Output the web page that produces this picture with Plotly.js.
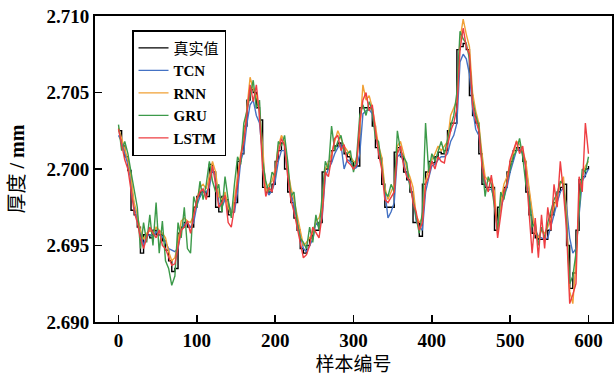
<!DOCTYPE html>
<html>
<head>
<meta charset="utf-8">
<script src="https://cdn.plot.ly/plotly-3.0.1.min.js"></script>
<style>html,body{margin:0;padding:0;background:#fff;}#chart{width:616px;height:376px;}</style>
</head>
<body>
<div id="chart"></div>
<script>
// sample index (every 4th sample)
const sampleIdx = Array.from({length: 151}, (_, i) => i * 4);

const trueVals = [
2.7025,2.7015,2.7008,2.6999,2.6973,2.6970,2.6962,2.6945,2.6957,2.6957,
2.6955,2.6960,2.6957,2.6957,2.6953,2.6947,2.6940,2.6933,2.6935,2.6958,
2.6962,2.6965,2.6962,2.6962,2.6975,2.6982,2.6985,2.6985,2.6982,2.7003,
2.6998,2.6975,2.6972,2.6982,2.6980,2.6970,2.6972,2.6978,2.7005,2.7010,
2.7028,2.7045,2.7052,2.7050,2.7040,2.7032,2.6988,2.6985,2.6985,2.6990,
2.7005,2.7012,2.7017,2.7000,2.6985,2.6978,2.6968,2.6960,2.6948,2.6945,
2.6950,2.6955,2.6960,2.6960,2.6965,2.6998,2.7000,2.7005,2.7012,2.7015,
2.7017,2.7015,2.7010,2.7008,2.7005,2.7002,2.7002,2.7040,2.7040,2.7040,
2.7040,2.7028,2.7014,2.7007,2.6990,2.6975,2.6975,2.6975,2.7011,2.7014,
2.7008,2.6998,2.6993,2.6985,2.6965,2.6965,2.6956,2.6990,2.6998,2.7005,
2.7004,2.7008,2.7011,2.7010,2.7012,2.7025,2.7030,2.7030,2.7078,2.7080,
2.7082,2.7078,2.7048,2.7035,2.7030,2.7010,2.6990,2.6988,2.6988,2.6988,
2.6960,2.6975,2.6982,2.6988,2.6998,2.7005,2.7012,2.7014,2.7012,2.7005,
2.6985,2.6970,2.6958,2.6955,2.6954,2.6954,2.6954,2.6960,2.6970,2.6978,
2.6985,2.6988,2.6990,2.6950,2.6922,2.6932,2.6960,2.6993,2.6995,2.7000,
2.7002];

const tcnVals = [
2.7022,2.7018,2.7010,2.7003,2.6992,2.6975,2.6968,2.6958,2.6950,2.6956,
2.6957,2.6956,2.6959,2.6957,2.6956,2.6952,2.6948,2.6947,2.6946,2.6948,
2.6960,2.6964,2.6965,2.6962,2.6965,2.6976,2.6982,2.6985,2.6985,2.6988,
2.7000,2.6995,2.6978,2.6975,2.6980,2.6978,2.6972,2.6972,2.6985,2.7005,
2.7012,2.7030,2.7042,2.7045,2.7035,2.7030,2.7010,2.6988,2.6983,2.6986,
2.6992,2.7005,2.7012,2.7012,2.6998,2.6985,2.6976,2.6966,2.6958,2.6948,
2.6946,2.6950,2.6954,2.6965,2.6962,2.6968,2.6995,2.7000,2.7004,2.7010,
2.7014,2.7016,2.7000,2.7006,2.7005,2.7000,2.7001,2.7010,2.7036,2.7038,
2.7039,2.7036,2.7024,2.7012,2.7004,2.6985,2.6968,2.6972,2.6978,2.7008,
2.7010,2.7004,2.6996,2.6990,2.6982,2.6966,2.6962,2.6960,2.6985,2.6994,
2.7002,2.7003,2.7006,2.7008,2.7008,2.7010,2.7018,2.7022,2.7030,2.7070,
2.7075,2.7072,2.7062,2.7040,2.7026,2.7022,2.7006,2.6990,2.6986,2.6987,
2.6980,2.6962,2.6975,2.6982,2.6988,2.6998,2.7005,2.7012,2.7013,2.7010,
2.7002,2.6985,2.6970,2.6960,2.6956,2.6955,2.6954,2.6955,2.6962,2.6970,
2.6978,2.6985,2.6988,2.6975,2.6955,2.6945,2.6948,2.6968,2.6992,2.6996,
2.7000];

const rnnVals = [
2.7027,2.7020,2.7012,2.7006,2.6995,2.6978,2.6970,2.6960,2.6954,2.6958,
2.6960,2.6958,2.6962,2.6960,2.6958,2.6955,2.6946,2.6940,2.6942,2.6952,
2.6966,2.6968,2.6966,2.6965,2.6970,2.6980,2.6988,2.6990,2.6987,2.6995,
2.7005,2.6998,2.6982,2.6980,2.6985,2.6975,2.6970,2.6980,2.6995,2.7010,
2.7020,2.7040,2.7060,2.7052,2.7048,2.7038,2.7015,2.6985,2.6990,2.6992,
2.7000,2.7015,2.7022,2.7018,2.7000,2.6988,2.6980,2.6970,2.6960,2.6950,
2.6952,2.6955,2.6958,2.6966,2.6968,2.6975,2.7000,2.7004,2.7010,2.7018,
2.7025,2.7020,2.7015,2.7012,2.7008,2.7005,2.7004,2.7025,2.7055,2.7045,
2.7048,2.7040,2.7028,2.7015,2.7008,2.6988,2.6980,2.6985,2.6990,2.7015,
2.7018,2.7010,2.7000,2.6995,2.6988,2.6970,2.6965,2.6968,2.6992,2.7000,
2.7006,2.7010,2.7015,2.7012,2.7015,2.7018,2.7035,2.7040,2.7045,2.7085,
2.7098,2.7088,2.7080,2.7050,2.7038,2.7030,2.7010,2.6995,2.6992,2.6994,
2.6985,2.6958,2.6978,2.6990,2.6995,2.7004,2.7010,2.7018,2.7016,2.7012,
2.7005,2.6988,2.6972,2.6958,2.6955,2.6960,2.6958,2.6962,2.6968,2.6975,
2.6982,2.6990,2.6995,2.6970,2.6920,2.6912,2.6940,2.6978,2.6995,2.7002,
2.7005];

const gruVals = [
2.7029,2.7012,2.7018,2.7010,2.6998,2.6986,2.6975,2.6948,2.6965,2.6952,
2.6970,2.6950,2.6978,2.6945,2.6966,2.6940,2.6935,2.6924,2.6930,2.6965,
2.6955,2.6975,2.6948,2.6945,2.6982,2.6975,2.6992,2.6980,2.6990,2.7005,
2.6992,2.6985,2.6990,2.6972,2.6995,2.6980,2.6968,2.6990,2.7008,2.7003,
2.7030,2.7038,2.7048,2.7058,2.7040,2.7045,2.7005,2.6992,2.6985,2.6998,
2.6995,2.7018,2.7015,2.7022,2.7005,2.6982,2.6985,2.6965,2.6955,2.6952,
2.6948,2.6962,2.6952,2.6970,2.6960,2.6985,2.7005,2.7000,2.7028,2.7012,
2.7018,2.7022,2.7012,2.7010,2.7012,2.6998,2.7008,2.7035,2.7042,2.7035,
2.7044,2.7038,2.7020,2.7018,2.7002,2.6985,2.6982,2.6990,2.6985,2.7025,
2.7012,2.7008,2.7004,2.6988,2.6980,2.6968,2.6958,2.6972,2.7030,2.6998,
2.7010,2.7005,2.7012,2.7018,2.7010,2.7020,2.7028,2.7035,2.7050,2.7090,
2.7085,2.7082,2.7072,2.7045,2.7035,2.7028,2.7005,2.6982,2.6995,2.6990,
2.6975,2.6960,2.6985,2.6980,2.6992,2.7000,2.7008,2.7012,2.7020,2.7008,
2.6990,2.6982,2.6962,2.6965,2.6950,2.6962,2.6955,2.6965,2.6972,2.6980,
2.6984,2.6992,2.6990,2.6965,2.6925,2.6930,2.6945,2.6975,2.7000,2.6998,
2.7008];

const lstmVals = [
2.7026,2.7016,2.7006,2.7000,2.6985,2.6972,2.6965,2.6955,2.6948,2.6955,
2.6962,2.6958,2.6955,2.6960,2.6950,2.6948,2.6942,2.6937,2.6938,2.6950,
2.6960,2.6962,2.6966,2.6958,2.6970,2.6980,2.6985,2.6987,2.6980,2.6990,
2.7002,2.6990,2.6975,2.6978,2.6983,2.6965,2.6962,2.6975,2.6990,2.7008,
2.7018,2.7035,2.7055,2.7044,2.7055,2.7035,2.7000,2.6982,2.6988,2.6985,
2.6998,2.7010,2.7020,2.7015,2.6995,2.6980,2.6972,2.6962,2.6950,2.6942,
2.6944,2.6950,2.6962,2.6958,2.6955,2.6970,2.6998,2.6995,2.7008,2.7020,
2.7022,2.7012,2.7016,2.7005,2.7003,2.7000,2.7003,2.7030,2.7045,2.7050,
2.7038,2.7042,2.7025,2.7010,2.7000,2.6980,2.6978,2.6982,2.6985,2.7010,
2.7015,2.7002,2.6995,2.6992,2.6978,2.6972,2.6960,2.6965,2.6990,2.6995,
2.7005,2.7000,2.7008,2.7005,2.7004,2.7015,2.7025,2.7030,2.7040,2.7078,
2.7092,2.7080,2.7075,2.7042,2.7032,2.7025,2.7002,2.6992,2.6985,2.6996,
2.6978,2.6955,2.6972,2.6985,2.6990,2.7006,2.7012,2.7018,2.7010,2.7015,
2.7000,2.6975,2.6945,2.6968,2.6942,2.6970,2.6948,2.6975,2.6960,2.6990,
2.6975,2.7005,2.6985,2.6960,2.6912,2.6918,2.6925,2.6995,2.6985,2.7030,
2.7010];

const seriesNames = ['真实值', 'TCN', 'RNN', 'GRU', 'LSTM'];
const seriesData = [trueVals, tcnVals, rnnVals, gruVals, lstmVals];
const seriesColors = ['#000000', '#4472c4', '#f0a035', '#3c9a4a', '#ee3e42'];

const traces = seriesData.map((vals, i) => ({
  x: sampleIdx,
  y: vals,
  type: 'scatter',
  mode: 'lines',
  name: i === 0 ? seriesNames[i] : '<b>' + seriesNames[i] + '</b>',
  line: {color: seriesColors[i], width: 1.4, shape: i === 0 ? 'hv' : 'linear'}
}));

const serif = '"Liberation Serif", "Times New Roman", "Noto Sans CJK SC", serif';

const layout = {
  width: 616,
  height: 376,
  margin: {l: 95, r: 4, t: 16, b: 54},
  paper_bgcolor: '#ffffff',
  plot_bgcolor: '#ffffff',
  showlegend: true,
  legend: {
    x: 0.0716, y: 0.954, xanchor: 'left', yanchor: 'top',
    bgcolor: '#ffffff', bordercolor: '#000000', borderwidth: 1.5,
    font: {family: serif, size: 15, color: '#000'},
    tracegroupgap: 0, itemwidth: 30
  },
  xaxis: {
    range: [-30, 630],
    tickvals: [0, 100, 200, 300, 400, 500, 600],
    ticktext: ['0', '100', '200', '300', '400', '500', '600'],
    ticks: 'inside', ticklen: 7, tickwidth: 1.5, tickcolor: '#000',
    showline: true, linecolor: '#000', linewidth: 2, mirror: true,
    showgrid: false, zeroline: false,
    tickfont: {family: serif, size: 19, color: '#000', weight: 'bold'},
    title: {text: '样本编号', font: {family: '"Noto Sans CJK SC", serif', size: 19, color: '#000'}, standoff: 4}
  },
  yaxis: {
    range: [2.690, 2.710],
    tickvals: [2.690, 2.695, 2.700, 2.705, 2.710],
    ticktext: ['2.690', '2.695', '2.700', '2.705', '2.710'],
    ticks: 'inside', ticklen: 7, tickwidth: 1.5, tickcolor: '#000',
    showline: true, linecolor: '#000', linewidth: 2, mirror: true,
    showgrid: false, zeroline: false,
    tickfont: {family: serif, size: 19, color: '#000', weight: 'bold'},
    title: {text: '厚度 <b>/ mm</b>', font: {family: '"Liberation Serif", "Noto Sans CJK SC", serif', size: 20, color: '#000'}, standoff: 16}
  }
};

Plotly.newPlot('chart', traces, layout, {displayModeBar: false, staticPlot: true});
</script>
</body>
</html>
